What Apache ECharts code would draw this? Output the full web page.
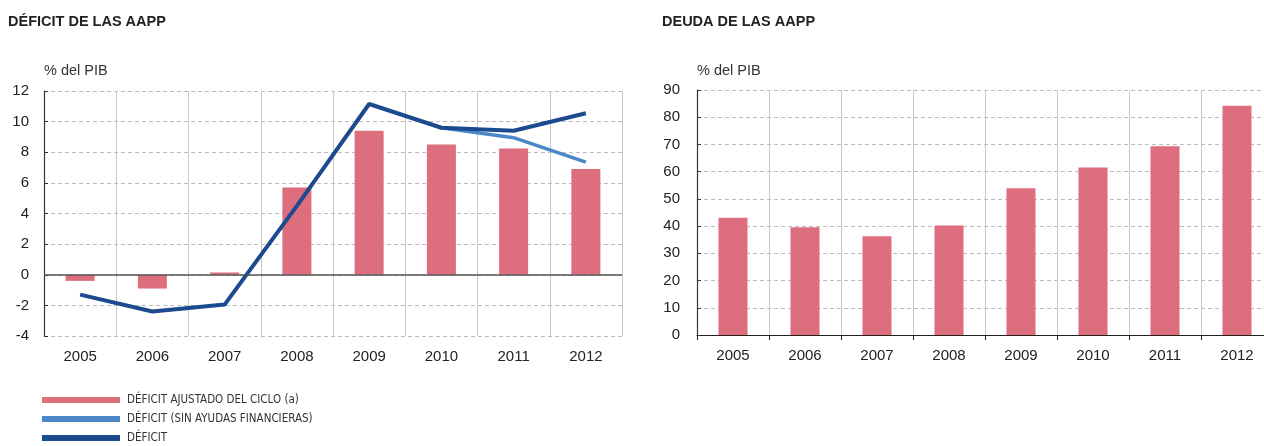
<!DOCTYPE html>
<html>
<head>
<meta charset="utf-8">
<script src="https://cdn.jsdelivr.net/npm/echarts@6/dist/echarts.min.js"></script>
<style>
  html, body { margin: 0; padding: 0; background: #fff; overflow: hidden; }
  #chart { width: 1280px; height: 446px; }
</style>
</head>
<body>
<div id="chart"></div>
<script>
var years = ["2005", "2006", "2007", "2008", "2009", "2010", "2011", "2012"];

// left panel: déficit de las AAPP (% del PIB)
var deficitAjustado = [-0.4, -0.9, 0.15, 5.7, 9.4, 8.5, 8.25, 6.9];
var deficitSinAyudas = [null, null, null, null, null, 9.6, 8.95, 7.35];
var deficit = [-1.3, -2.4, -1.95, 4.5, 11.15, 9.6, 9.4, 10.55];

// right panel: deuda de las AAPP (% del PIB)
var deuda = [43.1, 39.6, 36.3, 40.2, 53.9, 61.5, 69.3, 84.2];

var barColor = "#dc6e7e";
var darkBlue = "#1b4a8e";
var lightBlue = "#4b87c9";
var fontMain = "'Liberation Sans', Arial, sans-serif";
var fontNarrow = "'Liberation Sans Narrow', 'DejaVu Sans Condensed', 'Liberation Sans', sans-serif";

var chartDom = document.getElementById("chart");
var myChart = echarts.init(chartDom, null, { renderer: "canvas" });

function catAxis(gridIndex, showLine) {
  return {
    type: "category",
    gridIndex: gridIndex,
    data: years,
    position: "bottom",
    axisLine: { show: showLine, onZero: false, lineStyle: { color: "#222", width: 1.2 } },
    axisTick: { show: showLine, length: 5, lineStyle: { color: "#222" } },
    axisLabel: { color: "#222", fontSize: 15, fontFamily: fontMain, margin: 13 },
    splitLine: { show: true, lineStyle: { color: "#c8c8c8", width: 1 } }
  };
}

function valAxis(gridIndex, min, max, interval, margin) {
  return {
    type: "value",
    gridIndex: gridIndex,
    min: min,
    max: max,
    interval: interval,
    axisLine: { show: true, lineStyle: { color: "#333", width: 1.2 } },
    axisTick: { show: true, inside: true, length: 4, lineStyle: { color: "#333" } },
    axisLabel: { color: "#222", fontSize: 15, fontFamily: fontMain, margin: margin },
    splitLine: { show: true, lineStyle: { color: "#bdbdbd", type: [4, 3], width: 1 } }
  };
}

var titleStyle = { fontSize: 14.5, fontWeight: "bold", color: "#222", fontFamily: fontMain };
var unitStyle = { fontSize: 14.5, fontWeight: "normal", color: "#333", fontFamily: fontMain };

var option = {
  animation: false,
  backgroundColor: "#fff",
  title: [
    { text: "DÉFICIT DE LAS AAPP", left: 8, top: 14, padding: 0, textStyle: titleStyle },
    { text: "% del PIB", left: 44, top: 63, padding: 0, textStyle: unitStyle },
    { text: "DEUDA DE LAS AAPP", left: 662, top: 14, padding: 0, textStyle: titleStyle },
    { text: "% del PIB", left: 697, top: 63, padding: 0, textStyle: unitStyle }
  ],
  legend: {
    orient: "vertical",
    left: 42,
    top: 394,
    height: 60,
    padding: 0,
    itemWidth: 78,
    itemHeight: 6,
    itemGap: 7,
    textStyle: { fontSize: 11.5, color: "#333", fontFamily: fontNarrow, lineHeight: 12, padding: [0, 0, 0, 2] },
    data: [
      { name: "DÉFICIT AJUSTADO DEL CICLO (a)", icon: "rect" },
      { name: "DÉFICIT (SIN AYUDAS FINANCIERAS)", icon: "rect" },
      { name: "DÉFICIT", icon: "rect" }
    ]
  },
  grid: [
    { left: 44, width: 578, top: 91, bottom: 110 },
    { left: 697, width: 576, top: 90, bottom: 111 }
  ],
  xAxis: [catAxis(0, false), catAxis(1, true)],
  yAxis: [valAxis(0, -4, 12, 2, 15), valAxis(1, 0, 90, 10, 17)],
  series: [
    {
      name: "DÉFICIT AJUSTADO DEL CICLO (a)",
      type: "bar",
      xAxisIndex: 0,
      yAxisIndex: 0,
      barWidth: 29,
      data: deficitAjustado,
      itemStyle: { color: barColor },
      markLine: {
        silent: true,
        symbol: "none",
        label: { show: false },
        lineStyle: { color: "#555", type: "solid", width: 1.5 },
        data: [{ yAxis: 0 }]
      }
    },
    {
      name: "DÉFICIT (SIN AYUDAS FINANCIERAS)",
      type: "line",
      xAxisIndex: 0,
      yAxisIndex: 0,
      data: deficitSinAyudas,
      showSymbol: false,
      symbol: "none",
      itemStyle: { color: lightBlue },
      lineStyle: { color: lightBlue, width: 3.5 }
    },
    {
      name: "DÉFICIT",
      type: "line",
      xAxisIndex: 0,
      yAxisIndex: 0,
      data: deficit,
      showSymbol: false,
      symbol: "none",
      itemStyle: { color: darkBlue },
      lineStyle: { color: darkBlue, width: 4 }
    },
    {
      name: "DEUDA",
      type: "bar",
      xAxisIndex: 1,
      yAxisIndex: 1,
      barWidth: 29,
      data: deuda,
      itemStyle: { color: barColor }
    }
  ]
};

option && myChart.setOption(option);
</script>
</body>
</html>
